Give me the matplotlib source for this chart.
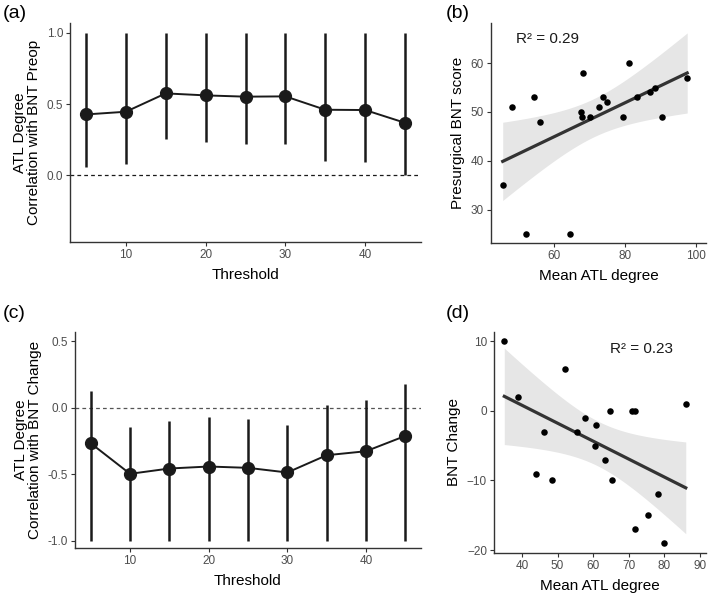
import numpy as np
import matplotlib
matplotlib.use("Agg")
from matplotlib import pyplot as plt

plt.rcParams['font.family'] = ['Liberation Sans', 'DejaVu Sans']

# threshold curves (panels a, c)
thresholds = [5, 10, 15, 20, 25, 30, 35, 40, 45]
preop_r = [0.427, 0.446, 0.575, 0.561, 0.552, 0.554, 0.46, 0.458, 0.368]
preop_lo = [0.059, 0.082, 0.251, 0.235, 0.216, 0.218, 0.099, 0.092, 0.0]
preop_hi = [1.0, 1.0, 1.0, 1.0, 1.0, 1.0, 1.0, 1.0, 1.0]
change_r = [-0.267, -0.497, -0.457, -0.442, -0.452, -0.487, -0.357, -0.327, -0.212]
change_lo = [-1.0, -1.0, -1.0, -1.0, -1.0, -1.0, -1.0, -1.0, -1.0]
change_hi = [0.128, -0.147, -0.098, -0.072, -0.087, -0.132, 0.02, 0.058, 0.178]

# scatter data (panel b)
atl_b = [45.5, 48.0, 54.4, 55.9, 52.0, 64.4, 68.0, 67.6, 67.9, 70.0,
         72.7, 73.8, 74.9, 79.3, 81.0, 83.4, 87.0, 88.5, 90.3, 97.5]
bnt_pre = [35, 51, 53, 48, 25, 25, 58, 50, 49, 49,
           51, 53, 52, 49, 60, 53, 54, 55, 49, 57]

# scatter data (panel d)
atl_d = [35.0, 38.8, 52.0, 46.1, 44.0, 48.4, 55.6, 57.8, 60.9, 60.5,
         63.4, 64.8, 65.2, 71.0, 71.9, 71.9, 75.6, 78.3, 80.0, 86.1]
bnt_change = [10, 2, 6, -3, -9, -10, -3, -1, -2, -5,
              -7, 0, -10, 0, 0, -17, -15, -12, -19, 1]

W, H = 709, 593
fig = plt.figure(figsize=(W / 100, H / 100), dpi=100)


def box(l, r, t, b):
    return [l / W, 1 - b / H, (r - l) / W, (b - t) / H]


ax_a = fig.add_axes(box(70, 421, 23, 242))
ax_b = fig.add_axes(box(491, 706, 23, 243))
ax_c = fig.add_axes(box(75, 421, 332, 548))
ax_d = fig.add_axes(box(494, 706, 332, 553))

tick_col = '#4d4d4d'


def style(ax):
    for s in ['top', 'right']:
        ax.spines[s].set_visible(False)
    for s in ['left', 'bottom']:
        ax.spines[s].set_color('#333333')
        ax.spines[s].set_linewidth(1.0)
    ax.tick_params(length=3, width=0.8, color='#333333', labelcolor=tick_col, labelsize=8.5, pad=2)


def curve(ax, r, lo, hi, dash_col):
    ax.axhline(0, color=dash_col, lw=0.9, ls=(0, (3, 2.5)), xmin=0, xmax=1)
    ax.vlines(thresholds, lo, hi, color='#1a1a1a', lw=1.8)
    ax.plot(thresholds, r, color='#1a1a1a', lw=1.4, marker='o', ms=8.5)
    ax.set_xlim(3.0, 47.0)
    ax.set_xticks([10, 20, 30, 40])
    ax.set_xlabel('Threshold', fontsize=11, labelpad=5)
    style(ax)


curve(ax_a, preop_r, preop_lo, preop_hi, '#1a1a1a')
ax_a.set_ylim(-0.47, 1.07)
ax_a.set_yticks([0.0, 0.5, 1.0])
ax_a.set_yticklabels(['0.0', '0.5', '1.0'])
ax_a.set_ylabel('ATL Degree\nCorrelation with BNT Preop', fontsize=11, labelpad=4, linespacing=1.0)

curve(ax_c, change_r, change_lo, change_hi, '#555555')
ax_c.set_ylim(-1.055, 0.57)
ax_c.set_yticks([-1.0, -0.5, 0.0, 0.5])
ax_c.set_yticklabels(['-1.0', '-0.5', '0.0', '0.5'])
ax_c.set_ylabel('ATL Degree\nCorrelation with BNT Change', fontsize=11, labelpad=4, linespacing=1.0)


def reg(ax, x, y, r2_text, tx, ty):
    x = np.asarray(x, float)
    y = np.asarray(y, float)
    n = len(x)
    b1, b0 = np.polyfit(x, y, 1)
    xs = np.linspace(x.min(), x.max(), 100)
    yh = b0 + b1 * xs
    resid = y - (b0 + b1 * x)
    s = np.sqrt(np.sum(resid ** 2) / (n - 2))
    sxx = np.sum((x - x.mean()) ** 2)
    se = s * np.sqrt(1 / n + (xs - x.mean()) ** 2 / sxx)
    t = 2.101
    ax.fill_between(xs, yh - t * se, yh + t * se, color='#e6e6e6', lw=0, zorder=1)
    ax.plot(xs, yh, color='#333333', lw=2.3, zorder=2)
    ax.scatter(x, y, s=22, color='black', zorder=3, lw=0)
    ax.text(tx, ty, r2_text, fontsize=11, ha='left', va='center', color='#1a1a1a')
    style(ax)


reg(ax_b, atl_b, bnt_pre, 'R² = 0.29', 49.2, 65.0)
ax_b.set_xlim(42.2, 102.8)
ax_b.set_ylim(23.2, 68.2)
ax_b.set_xticks([60, 80, 100])
ax_b.set_yticks([30, 40, 50, 60])
ax_b.set_xlabel('Mean ATL degree', fontsize=11, labelpad=5)
ax_b.set_ylabel('Presurgical BNT score', fontsize=11, labelpad=4)

reg(ax_d, atl_d, bnt_change, 'R² = 0.23', 64.7, 8.9)
ax_d.set_xlim(32.1, 91.8)
ax_d.set_ylim(-20.4, 11.3)
ax_d.set_xticks([40, 50, 60, 70, 80, 90])
ax_d.set_yticks([-20, -10, 0, 10])
ax_d.set_xlabel('Mean ATL degree', fontsize=11, labelpad=5)
ax_d.set_ylabel('BNT Change', fontsize=11, labelpad=4)

fig.text(3 / W, 1 - 14 / H, '(a)', fontsize=14, ha='left', va='center')
fig.text(446 / W, 1 - 14 / H, '(b)', fontsize=14, ha='left', va='center')
fig.text(3 / W, 1 - 314 / H, '(c)', fontsize=14, ha='left', va='center')
fig.text(446 / W, 1 - 314 / H, '(d)', fontsize=14, ha='left', va='center')

fig.savefig('out.png', dpi=100)
